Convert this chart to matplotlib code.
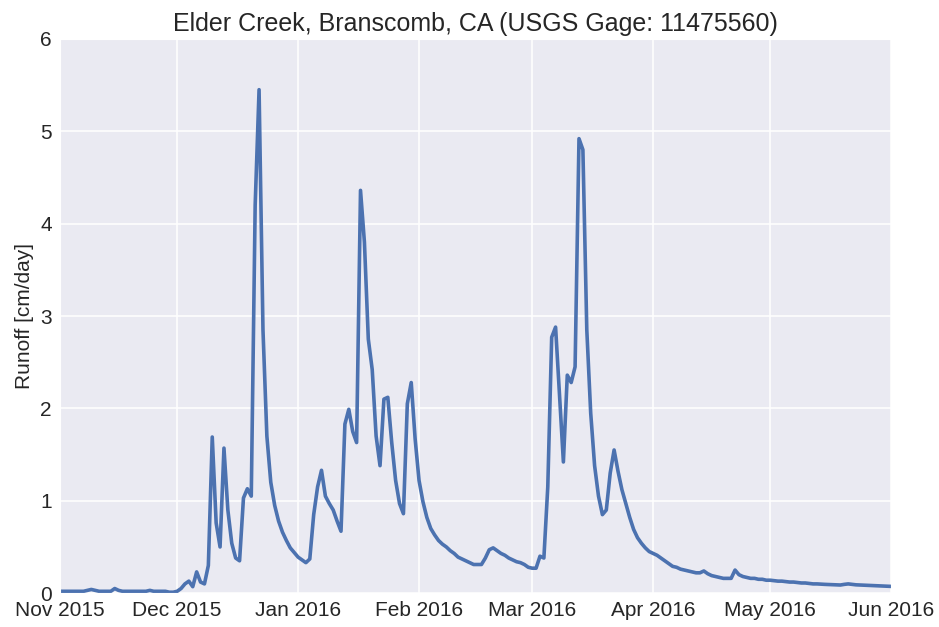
import numpy as np
import pandas as pd
import matplotlib
matplotlib.use('Agg')
import matplotlib.pyplot as plt
import matplotlib.dates as mdates
import seaborn as sns

# daily runoff [cm/day], Nov 1 2015 .. Jun 1 2016
nov = [0.02, 0.02, 0.02, 0.02, 0.02, 0.02, 0.02, 0.03, 0.04, 0.03,
       0.02, 0.02, 0.02, 0.02, 0.05, 0.03, 0.02, 0.02, 0.02, 0.02,
       0.02, 0.02, 0.02, 0.03, 0.02, 0.02, 0.02, 0.02, 0.01, 0.01]
dec = [0.02, 0.05, 0.1, 0.13, 0.07, 0.23, 0.12, 0.1, 0.3, 1.69,
       0.76, 0.5, 1.57, 0.9, 0.54, 0.38, 0.35, 1.03, 1.13, 1.05,
       4.2, 5.45, 2.85, 1.7, 1.2, 0.95, 0.78, 0.66, 0.57, 0.49, 0.44]
jan = [0.39, 0.36, 0.33, 0.37, 0.85, 1.15, 1.33, 1.05, 0.97, 0.9,
       0.78, 0.67, 1.83, 1.99, 1.75, 1.63, 4.36, 3.8, 2.75, 2.42,
       1.7, 1.38, 2.1, 2.12, 1.63, 1.22, 0.97, 0.86, 2.05, 2.28, 1.67]
feb = [1.22, 0.99, 0.82, 0.7, 0.63, 0.57, 0.53, 0.5, 0.46, 0.43,
       0.39, 0.37, 0.35, 0.33, 0.31, 0.31, 0.31, 0.38, 0.47, 0.49,
       0.46, 0.43, 0.41, 0.38, 0.36, 0.34, 0.33, 0.31, 0.28]
mar = [0.27, 0.27, 0.4, 0.38, 1.15, 2.77, 2.88, 2.15, 1.42, 2.36,
       2.28, 2.45, 4.92, 4.8, 2.85, 1.95, 1.38, 1.05, 0.85, 0.9,
       1.3, 1.55, 1.32, 1.12, 0.97, 0.82, 0.69, 0.6, 0.54, 0.49, 0.45]
apr = [0.43, 0.41, 0.38, 0.35, 0.32, 0.29, 0.28, 0.26, 0.25, 0.24,
       0.23, 0.22, 0.22, 0.24, 0.21, 0.19, 0.18, 0.17, 0.16, 0.16,
       0.16, 0.25, 0.2, 0.18, 0.17, 0.16, 0.16, 0.15, 0.15, 0.14]
may = [0.14, 0.135, 0.13, 0.13, 0.125, 0.12, 0.12, 0.115, 0.11, 0.11,
       0.105, 0.1, 0.1, 0.097, 0.095, 0.093, 0.09, 0.09, 0.088, 0.095,
       0.1, 0.095, 0.09, 0.088, 0.086, 0.084, 0.082, 0.08, 0.078, 0.077, 0.075]
jun = [0.073]

runoff = nov + dec + jan + feb + mar + apr + may + jun
dates = pd.date_range('2015-11-01', periods=len(runoff), freq='D')

sns.set_style('darkgrid', {'grid.linewidth': 1.1})
plt.rcParams['font.family'] = ['Liberation Sans', 'DejaVu Sans']

fig = plt.figure(figsize=(9.39, 6.27), dpi=100)
ax = fig.add_axes([0.064, 0.054, 0.885, 0.884])
ax.plot(dates, runoff, color='#4C72B0', lw=2.6)

ax.set_xlim(pd.Timestamp('2015-11-01'), pd.Timestamp('2016-06-01'))
ax.set_ylim(0, 6)
ax.xaxis.set_major_locator(mdates.MonthLocator())
ax.xaxis.set_major_formatter(mdates.DateFormatter('%b %Y'))
ax.grid(True, color='white', lw=1.1)
ax.tick_params(labelsize=15, colors='#262626', length=2, pad=4)
ax.set_ylabel('Runoff [cm/day]', fontsize=15, color='#262626')
ax.set_title('Elder Creek, Branscomb, CA (USGS Gage: 11475560)', fontsize=18, color='#262626')

fig.savefig('out.png', dpi=100)
